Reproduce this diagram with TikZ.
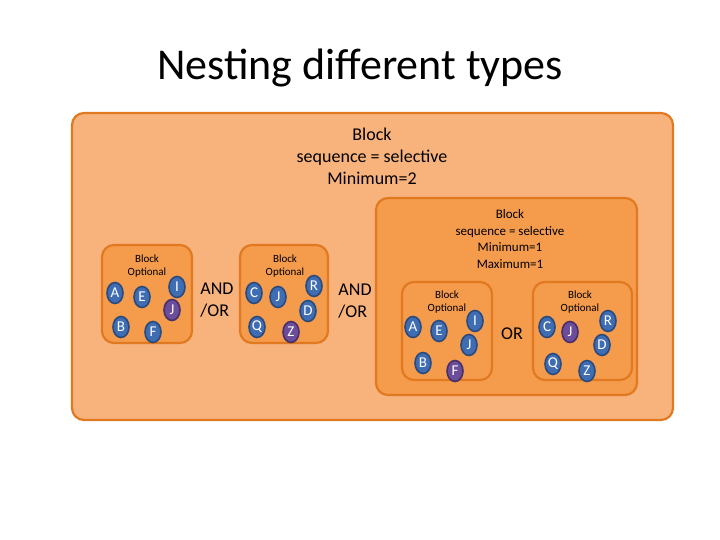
\documentclass[tikz,border=0pt]{standalone}
\usepackage{fontspec}
\setmainfont{Carlito}
\usetikzlibrary{shapes.geometric}
\begin{document}
\begin{tikzpicture}[x=1pt,y=-1pt,
  innerbox/.style={draw=bdr,line width=2.2pt,fill=bgin,rounded corners=12pt},
  ev/.style={ellipse,draw=evb,line width=1.6pt,fill=evf,text=white,inner sep=0pt,minimum width=16pt,minimum height=21pt,font=\fontsize{15}{15}\selectfont},
  pv/.style={ev,fill=pvf,draw=pvb},
  sm/.style={align=center,font=\fontsize{11}{13.5}\selectfont},
  lab/.style={align=center,font=\fontsize{18}{22}\selectfont},
]
\definecolor{bgout}{HTML}{F8B27C}
\definecolor{bgin}{HTML}{F59B4C}
\definecolor{bdr}{HTML}{E0791F}
\definecolor{evf}{HTML}{3F6DB3}
\definecolor{evb}{HTML}{2A4A7E}
\definecolor{pvf}{HTML}{6B4D9B}
\definecolor{pvb}{HTML}{463066}
\useasboundingbox[fill=white] (0,0) rectangle (720,540);
\node[font=\fontsize{44}{48}\selectfont] (title) at (360,68) {Nesting different types};
\path[innerbox,fill=bgout] (72,113) rectangle (673,420);
\node[lab] (t1) at (372,156) {Block\\sequence = selective\\Minimum=2};
\path[innerbox] (102,245) rectangle (192,343);
\path[innerbox] (240,245) rectangle (328,343);
\path[innerbox] (376,198) rectangle (637,395);
\node[sm,font=\fontsize{13}{16.5}\selectfont] (t2) at (510,239) {Block\\sequence = selective\\Minimum=1\\Maximum=1};
\path[innerbox] (402,282) rectangle (492,380);
\path[innerbox] (533,282) rectangle (632,380);
\node[sm] (b1) at (147,266) {Block\\Optional};
\node[sm] (b2) at (285,266) {Block\\Optional};
\node[sm] (b3) at (447,302) {Block\\Optional};
\node[sm] (b4) at (580,302) {Block\\Optional};
\node[lab,align=left] (ao1) at (217,300) {AND\\/OR};
\node[lab,align=left] (ao2) at (355,301) {AND\\/OR};
\node[lab] (or) at (512,334) {OR};
% block 1
\node[ev] (a1) at (115,293) {A}; \node[ev] (e1) at (142,297) {E};
\node[ev] (i1) at (177,287) {I}; \node[pv] (j1) at (172,310) {J};
\node[ev] (bb1) at (121,327) {B}; \node[ev] (f1) at (153,332) {F};
% block 2
\node[ev] (c2) at (254,293) {C}; \node[ev] (j2) at (278,297) {J};
\node[ev] (r2) at (314,286) {R}; \node[ev] (d2) at (308,311) {D};
\node[ev] (q2) at (257,327) {Q}; \node[pv] (z2) at (291,332) {Z};
% block 3
\node[ev] (a3) at (413,327) {A}; \node[ev] (e3) at (439,331) {E};
\node[ev] (i3) at (475,321) {I}; \node[ev] (j3) at (469,345) {J};
\node[ev] (bb3) at (423,363) {B}; \node[pv] (f3) at (455,371) {F};
% block 4
\node[ev] (c4) at (547,327) {C}; \node[pv] (j4) at (570,332) {J};
\node[ev] (r4) at (608,321) {R}; \node[ev] (d4) at (602,345) {D};
\node[ev] (q4) at (553,364) {Q}; \node[ev] (z4) at (587,371) {Z};
\end{tikzpicture}
\end{document}
